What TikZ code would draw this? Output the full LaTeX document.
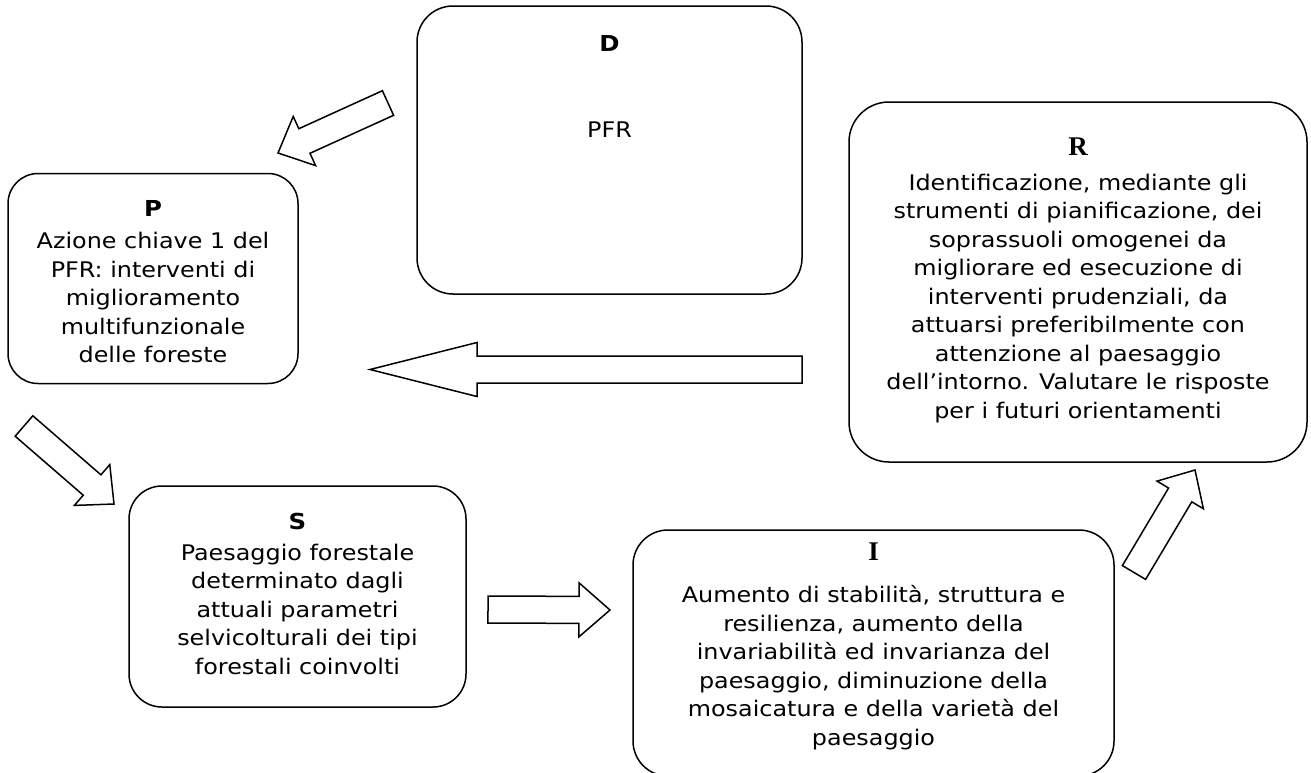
\documentclass[tikz,border=0pt]{standalone}
\usepackage{fontspec}
\setmainfont{DejaVu Sans}[FakeStretch=1.11]
\newfontfamily\headserif{Liberation Serif}
\usetikzlibrary{calc}

\tikzset{
  box/.style={draw=black, line width=1.5pt, fill=white, inner sep=0pt},
  bodytext/.style={align=center, inner sep=0pt, text=black,
    font=\fontsize{21.5pt}{28.5pt}\selectfont},
  headsans/.style={inner sep=0pt, text=black,
    font=\fontsize{22pt}{26pt}\selectfont\bfseries},
  headrom/.style={inner sep=0pt, text=black,
    font=\fontsize{27pt}{30pt}\selectfont\headserif\bfseries},
  blockline/.style={draw=black, line width=1.5pt, fill=white, line join=miter},
}

% hollow block arrow: tail, tip, half shaft width, half head width, head length
\newcommand\blockarrow[5]{%
  \coordinate (#1-b) at ($(#2)!#5!(#1)$);
  \draw[blockline] ($(#1)!#3!90:(#2)$) -- ($(#1-b)!#3!90:(#2)$)
    -- ($(#1-b)!#4!90:(#2)$) -- (#2) -- ($(#1-b)!#4!-90:(#2)$)
    -- ($(#1-b)!#3!-90:(#2)$) -- ($(#1)!#3!-90:(#2)$) -- cycle;}

\begin{document}
\begin{tikzpicture}[x=1pt, y=-1pt]
\useasboundingbox (0,0) rectangle (1311,772);
\clip (0,0) rectangle (1311,772);

% boxes
\node[box, minimum width=385pt, minimum height=288pt, rounded corners=36pt] (D) at (609.5,150) {};
\node[box, minimum width=290pt, minimum height=210pt, rounded corners=30pt] (P) at (153,278.5) {};
\node[box, minimum width=337pt, minimum height=221pt, rounded corners=33pt] (S) at (297.5,596.5) {};
\node[box, minimum width=481pt, minimum height=246pt, rounded corners=35pt] (I) at (873.5,653) {};
\node[box, minimum width=458pt, minimum height=360pt, rounded corners=40pt] (R) at (1078,282) {};

% headings
\node[headsans] (Dh) at (609.5,43.5) {D};
\node[headsans] (Ph) at (153,208.3) {P};
\node[headsans] (Sh) at (297.5,521.7) {S};
\node[headrom] (Ih) at (873.5,551.7) {I};
\node[headrom] (Rh) at (1078,146.7) {R};

% texts
\node[bodytext] (Dt) at (609.5,129.5) {PFR};
\node[bodytext, anchor=north] (Pt) at (153,232) {Azione chiave 1 del\\PFR: interventi di\\miglioramento\\multifunzionale\\delle foreste};
\node[bodytext, anchor=north] (St) at (297.5,543.7) {Paesaggio forestale\\determinato dagli\\attuali parametri\\selvicolturali dei tipi\\forestali coinvolti};
\node[bodytext, anchor=north] (It) at (873.5,585.3) {Aumento di stabilità, struttura e\\resilienza, aumento della\\invariabilità ed invarianza del\\paesaggio, diminuzione della\\mosaicatura e della varietà del\\paesaggio};
\node[bodytext, anchor=north] (Rt) at (1078,173.7) {Identificazione, mediante gli\\strumenti di pianificazione, dei\\soprassuoli omogenei da\\migliorare ed esecuzione di\\interventi prudenziali, da\\attuarsi preferibilmente con\\attenzione al paesaggio\\dell’intorno. Valutare le risposte\\per i futuri orientamenti};

% arrow ends
\coordinate (dp) at (388,103);   \coordinate (dp-tip) at (278,153);
\coordinate (rp) at (802,369.5); \coordinate (rp-tip) at (370,369.5);
\coordinate (ps) at (24,426);    \coordinate (ps-tip) at (114,504);
\coordinate (si) at (488,609.5); \coordinate (si-tip) at (610,610);
\coordinate (ir) at (1134,572.5);\coordinate (ir-tip) at (1195,470);

% block arrows
\blockarrow{dp}{dp-tip}{13.5pt}{27pt}{29pt}
\blockarrow{rp}{rp-tip}{13.5pt}{27pt}{107pt}
\blockarrow{ps}{ps-tip}{13.5pt}{27pt}{29pt}
\blockarrow{si}{si-tip}{13.5pt}{27pt}{31pt}
\blockarrow{ir}{ir-tip}{13.5pt}{27pt}{29pt}
\end{tikzpicture}
\end{document}
